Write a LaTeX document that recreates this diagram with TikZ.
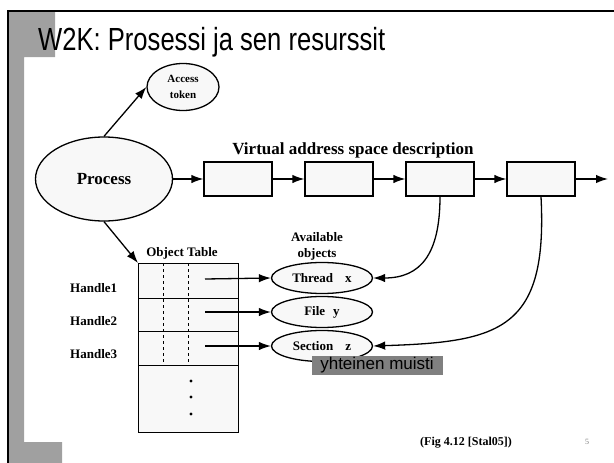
\documentclass[tikz,border=0pt]{standalone}
\usepackage{fontspec}
\usepackage{graphicx}
\setmainfont{Liberation Serif}
\newfontfamily\slidefont{Liberation Sans}
\usetikzlibrary{shapes.geometric}
\usetikzlibrary{arrows.meta}
\definecolor{custom-fill}{RGB}{248, 248, 248}
\definecolor{custom-texture}{RGB}{160, 160, 160}
\definecolor{custom-label}{RGB}{128, 128, 128}

\begin{document}
\begin{tikzpicture}[x=1pt, y=-1pt,
    oval/.style={ellipse, draw=black, fill=custom-fill, line width=1.3pt, inner sep=0pt},
    vbox/.style={rectangle, draw=black, fill=custom-fill, line width=1.3pt, minimum width=68pt, minimum height=34pt},
    lbl/.style={font=\bfseries\fontsize{13}{16}\selectfont, inner sep=0pt},
    arr/.style={line width=1.3pt, -{Latex[length=12pt,width=8.5pt]}}]
\useasboundingbox (0,0) rectangle (614,463);
% slide frame
\fill[custom-texture] (8,11) -- (55,11) -- (55,57) -- (24,57) -- (24,442) -- (62,442) -- (62,463) -- (8,463) -- cycle;
\draw[line width=2pt] (8,463) -- (8,11) -- (614,11);
\node[anchor=base west, inner sep=0pt] (title) at (38,50)
    {\scalebox{0.8}[1]{\slidefont\fontsize{32}{32}\selectfont W2K: Prosessi ja sen resurssit}};

% process and token
\node[oval, minimum width=137pt, minimum height=84pt, font=\bfseries\fontsize{17}{20}\selectfont] (proc) at (104,179) {Process};
\node[oval, minimum width=72pt, minimum height=47pt, align=center, font=\bfseries\fontsize{11}{16}\selectfont] (acc) at (183,87) {Access\\token};
\draw[arr] (proc.north) -- (acc.west);

% virtual address space
\node[lbl, font=\bfseries\fontsize{17}{20}\selectfont, anchor=base] (vasd) at (353,154) {Virtual address space description};
\node[vbox] (box1) at (238,179) {};
\node[vbox] (box2) at (339,179) {};
\node[vbox] (box3) at (440,179) {};
\node[vbox] (box4) at (541,179) {};
\coordinate (vend) at (608,179);
\draw[arr] (proc.east) -- (box1.west);
\draw[arr] (box1.east) -- (box2.west);
\draw[arr] (box2.east) -- (box3.west);
\draw[arr] (box3.east) -- (box4.west);
\draw[arr] (box4.east) -- (vend);

% object table
\node[lbl, anchor=base] (otab) at (182,256) {Object Table};
\node[rectangle, draw=black, fill=custom-fill, line width=1.3pt, minimum width=100pt, minimum height=169pt, anchor=north west, inner sep=0pt] (objtab) at (138,263) {};
\draw[line width=0.8pt] (138,298) -- (238,298);
\draw[line width=0.8pt] (138,331) -- (238,331);
\draw[line width=0.8pt] (138,365) -- (238,365);
\draw[line width=0.8pt, dashed] (163,263) -- (163,365);
\draw[line width=0.8pt, dashed] (188,263) -- (188,365);
\fill (191,381) circle (1.6);
\fill (191,397) circle (1.6);
\fill (191,414) circle (1.6);
\draw[arr] (proc.south) -- (objtab.north west);

\node[lbl, anchor=base west] (hd1) at (70,292) {Handle1};
\node[lbl, anchor=base west] (hd2) at (70,325) {Handle2};
\node[lbl, anchor=base west] (hd3) at (70,358) {Handle3};
\coordinate (row1) at (205,279);
\coordinate (row2) at (205,312);
\coordinate (row3) at (205,346);

% available objects
\node[lbl, align=center, anchor=north] (avail) at (317,232) {Available\\objects};
\node[oval, minimum width=101pt, minimum height=31pt, font=\bfseries\fontsize{13}{16}\selectfont] (thread) at (322,278) {Thread\hspace{12pt}x};
\node[oval, minimum width=101pt, minimum height=31pt, font=\bfseries\fontsize{13}{16}\selectfont] (file) at (322,312) {File\hspace{8pt}y};
\node[oval, minimum width=101pt, minimum height=31pt, font=\bfseries\fontsize{13}{16}\selectfont] (section) at (322,346) {Section\hspace{12pt}z};
\draw[arr] (row1) -- (thread.west);
\draw[arr] (row2) -- (file.west);
\draw[arr] (row3) -- (section.west);
\draw[arr] (box3.south) .. controls (440,255) and (420,278) .. (thread.east);
\draw[arr] (box4.south) .. controls (548,330) and (500,342) .. (section.east);

\node[rectangle, fill=custom-label, minimum width=131pt, minimum height=19pt, inner sep=0pt, font=\slidefont\fontsize{17}{19}\selectfont] (shared) at (377,365) {yhteinen muisti};

% caption
\node[lbl, font=\bfseries\fontsize{12}{14}\selectfont] (fig) at (466,443) {(Fig 4.12 [Stal05])};
\node[inner sep=0pt, text=gray, font=\fontsize{8}{9}\selectfont] (pgno) at (587,442) {5};
\end{tikzpicture}
\end{document}
